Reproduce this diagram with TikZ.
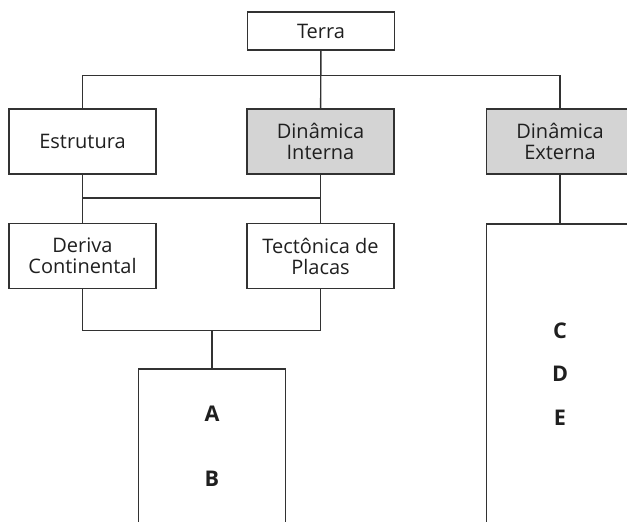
\documentclass[tikz,border=0pt]{standalone}
\usepackage{fontspec}
\setmainfont{Open Sans}
\usepackage{tikz}
\definecolor{caixacinza}{RGB}{212,212,212}
\definecolor{traco}{RGB}{50,50,50}
\tikzset{
  caixa/.style={draw=traco, line width=0.7pt, minimum width=73.5pt, minimum height=32.5pt,
    inner sep=1pt, align=center, font=\fontsize{10}{10.5}\selectfont, text=black!88},
  cinza/.style={caixa, fill=caixacinza},
  letra/.style={inner sep=0pt, font=\fontsize{10.8}{11}\selectfont\bfseries, text=black!88},
  liga/.style={draw=traco, line width=0.7pt}
}

\begin{document}
\begin{tikzpicture}[x=0.5pt,y=-0.5pt]
        \clip (0,0) rectangle (627,522);
        \node[caixa, minimum height=19pt] (terra) at (321,31) {Terra};
        \node[caixa] (estrutura) at (82.5,141.5) {Estrutura};
        \node[cinza] (interna) at (320.5,141.5) {Dinâmica\\Interna};
        \node[cinza] (externa) at (560,141.5) {Dinâmica\\Externa};
        \node[caixa] (deriva) at (82.5,256) {Deriva\\Continental};
        \node[caixa] (placas) at (320.5,256) {Tectônica de\\Placas};
        \node[caixa, minimum height=91pt] (blocoab) at (212,460) {};
        \node[caixa, minimum height=160pt] (blococde) at (560,384) {};
        \node[letra] (a) at (212,413.5) {A};
        \node[letra] (b) at (212,479) {B};
        \node[letra] (c) at (560,331) {C};
        \node[letra] (d) at (560,374) {D};
        \node[letra] (e) at (560,417.5) {E};
        \coordinate (topo) at (321,75.5);
        \coordinate (meio) at (200,198);
        \coordinate (base) at (212,330.5);
        \draw[liga] (terra) -- (interna);
        \draw[liga] (estrutura.north) |- (topo) -| (externa.north);
        \draw[liga] (estrutura) -- (deriva);
        \draw[liga] (interna) -- (placas);
        \draw[liga] (estrutura.south |- meio) -- (interna.south |- meio);
        \draw[liga] (deriva.south) |- (base) -| (placas.south);
        \draw[liga] (base) -- (blocoab.north);
        \draw[liga] (externa) -- (blococde.north);
      \end{tikzpicture}
\end{document}
